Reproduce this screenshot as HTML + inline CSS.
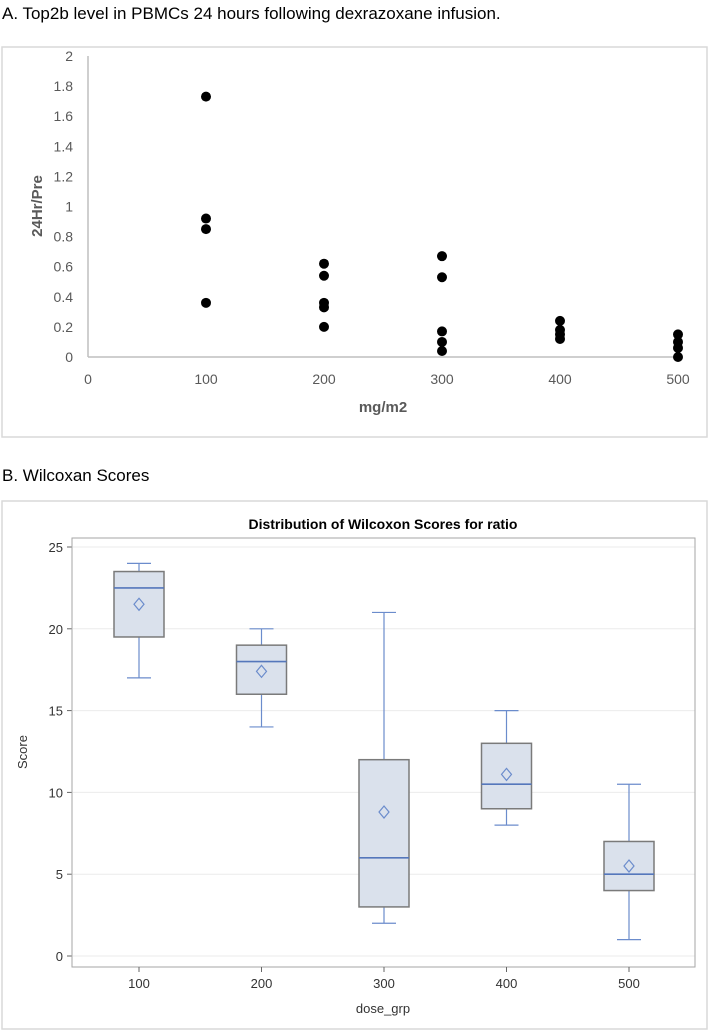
<!DOCTYPE html>
<html><head><meta charset="utf-8"><style>
body{margin:0;width:710px;height:1031px;background:#fff;overflow:hidden;font-family:"Liberation Sans",sans-serif}
svg{position:absolute;left:0;top:0}
</style></head><body>
<svg width="710" height="1031" id="s">
<text x="2" y="19" font-size="17" fill="#000">A. Top2b level in PBMCs 24 hours following dexrazoxane infusion.</text>
<rect x="2" y="47" width="705" height="390" fill="none" stroke="#d9d9d9" stroke-width="1.5"/>
<text x="2" y="481" font-size="17" fill="#000">B. Wilcoxan Scores</text>
<rect x="2" y="501" width="705" height="528" fill="none" stroke="#d9d9d9" stroke-width="1.5"/>
<g id="a"></g><g id="b"></g>
</svg>
<script>
const doses=[100,200,300,400,500];
const ratios100=[1.73,0.92,0.85,0.36];
const ratios200=[0.62,0.54,0.36,0.33,0.2];
const ratios300=[0.67,0.53,0.17,0.10,0.04];
const ratios400=[0.24,0.18,0.15,0.12];
const ratios500=[0.15,0.10,0.06,0.0];
const xTicksA=[0,100,200,300,400,500];
const yTicksA=["0","0.2","0.4","0.6","0.8","1","1.2","1.4","1.6","1.8","2"];
const groups=["100","200","300","400","500"];
const wMin=[17,14,2,8,1];
const q1=[19.5,16,3,9,4];
const med=[22.5,18,6,10.5,5];
const q3=[23.5,19,12,13,7];
const wMax=[24,20,21,15,10.5];
const means=[21.5,17.4,8.8,11.1,5.5];
const yTicksB=[0,5,10,15,20,25];
const NS="http://www.w3.org/2000/svg";
function mk(p,t,a,txt){const e=document.createElementNS(NS,t);for(const k in a)e.setAttribute(k,a[k]);if(txt!==undefined)e.textContent=txt;p.appendChild(e);return e;}
// Panel A
const A=document.getElementById('a');
const xA=v=>88+v*1.18, yA=v=>357-v*150.5;
let e;
e=mk(A,'line',{x1:88,y1:56,x2:88,y2:357,stroke:'#bfbfbf','stroke-width':1.5});

e=mk(A,'line',{x1:88,y1:357,x2:680,y2:357,stroke:'#bfbfbf','stroke-width':1.5});

yTicksA.forEach(t=>{e=mk(A,'text',{x:73,y:yA(+t)+5,'text-anchor':'end','font-size':14,fill:'#595959'},t);
});
xTicksA.forEach(t=>{e=mk(A,'text',{x:xA(t),y:384,'text-anchor':'middle','font-size':14,fill:'#595959'},String(t));
});
e=mk(A,'text',{x:383,y:412,'text-anchor':'middle','font-size':15,'font-weight':'bold',fill:'#595959'},'mg/m2');

e=mk(A,'text',{x:0,y:0,transform:'translate(42,206) rotate(-90)','text-anchor':'middle','font-size':15,'font-weight':'bold',fill:'#595959'},'24Hr/Pre');

[ratios100,ratios200,ratios300,ratios400,ratios500].forEach((arr,i)=>arr.forEach(v=>{
e=mk(A,'circle',{cx:xA(doses[i]),cy:yA(v),r:5,fill:'#000'});
}));
// Panel B
const B=document.getElementById('b');
const yB=v=>956-v*16.36, xB=i=>139+i*122.5;
e=mk(B,'text',{x:383,y:529,'text-anchor':'middle','font-size':14,'font-weight':'bold',fill:'#000'},'Distribution of Wilcoxon Scores for ratio');

yTicksB.forEach(t=>{e=mk(B,'line',{x1:73,x2:695,y1:yB(t),y2:yB(t),stroke:'#ebebeb','stroke-width':1});

e=mk(B,'line',{x1:67,x2:72,y1:yB(t),y2:yB(t),stroke:'#666'});

e=mk(B,'text',{x:63,y:yB(t)+5,'text-anchor':'end','font-size':13,fill:'#333'},String(t));
});
e=mk(B,'rect',{x:72,y:538,width:623,height:429,fill:'none',stroke:'#a6a6a6','stroke-width':1});

groups.forEach((g,i)=>{const cx=xB(i);
e=mk(B,'line',{x1:cx,x2:cx,y1:967,y2:972,stroke:'#666'});

e=mk(B,'text',{x:cx,y:988,'text-anchor':'middle','font-size':13,fill:'#333'},g);

const c='#6b8ccc';
e=mk(B,'line',{x1:cx,x2:cx,y1:yB(wMax[i]),y2:yB(q3[i]),stroke:c,'stroke-width':1.2});

e=mk(B,'line',{x1:cx,x2:cx,y1:yB(q1[i]),y2:yB(wMin[i]),stroke:c,'stroke-width':1.2});

e=mk(B,'line',{x1:cx-12,x2:cx+12,y1:yB(wMax[i]),y2:yB(wMax[i]),stroke:c,'stroke-width':1.2});

e=mk(B,'line',{x1:cx-12,x2:cx+12,y1:yB(wMin[i]),y2:yB(wMin[i]),stroke:c,'stroke-width':1.2});

e=mk(B,'rect',{x:cx-25,y:yB(q3[i]),width:50,height:yB(q1[i])-yB(q3[i]),fill:'#dae1ec',stroke:'#7a7a7a','stroke-width':1.5});

e=mk(B,'line',{x1:cx-25,x2:cx+25,y1:yB(med[i]),y2:yB(med[i]),stroke:'#5577bb','stroke-width':1.6});

const my=yB(means[i]);
e=mk(B,'polygon',{points:`${cx},${my-6} ${cx+5},${my} ${cx},${my+6} ${cx-5},${my}`,fill:'none',stroke:'#6b8ccc','stroke-width':1.2});
});
e=mk(B,'text',{x:383,y:1013,'text-anchor':'middle','font-size':13,fill:'#333'},'dose_grp');

e=mk(B,'text',{x:0,y:0,transform:'translate(27,752) rotate(-90)','text-anchor':'middle','font-size':13,fill:'#333'},'Score');

</script>
</body></html>
